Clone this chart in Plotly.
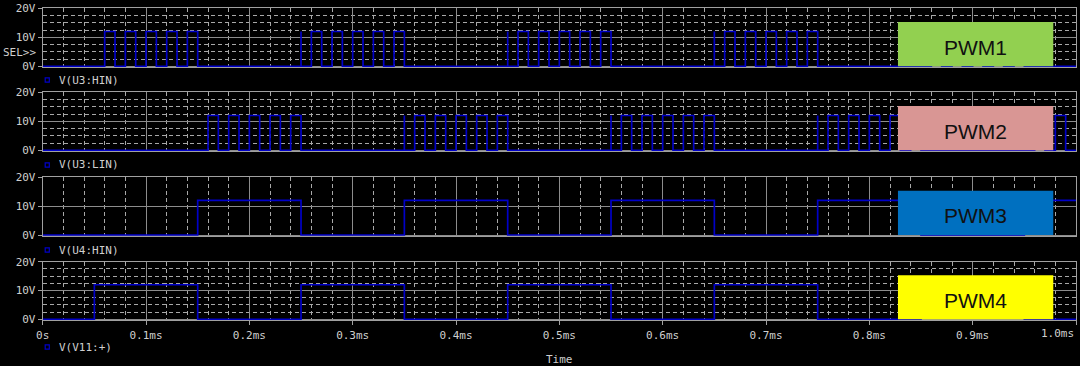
import plotly.graph_objects as go

# ---------------- data (times in ms, values in V) ----------------
HIGH = 12.0
T_END = 1.0

# V(U3:HIN)  -> PWM1
pwm1_rise = [0.06, 0.08, 0.10, 0.12, 0.14,
             0.26, 0.28, 0.30, 0.32, 0.34,
             0.46, 0.48, 0.50, 0.52, 0.54,
             0.66, 0.68, 0.70, 0.72, 0.74,
             0.86, 0.88, 0.90, 0.92, 0.94]
pwm1_fall = [0.07, 0.09, 0.11, 0.13, 0.15,
             0.27, 0.29, 0.31, 0.33, 0.35,
             0.47, 0.49, 0.51, 0.53, 0.55,
             0.67, 0.69, 0.71, 0.73, 0.75,
             0.87, 0.89, 0.91, 0.93, 0.95]
pwm1_glitch = [0.25, 0.45, 0.65, 0.85]

# V(U3:LIN)  -> PWM2
pwm2_rise = [0.16, 0.18, 0.20, 0.22, 0.24,
             0.36, 0.38, 0.40, 0.42, 0.44,
             0.56, 0.58, 0.60, 0.62, 0.64,
             0.76, 0.78, 0.80, 0.82, 0.84,
             0.96, 0.98]
pwm2_fall = [0.17, 0.19, 0.21, 0.23, 0.25,
             0.37, 0.39, 0.41, 0.43, 0.45,
             0.57, 0.59, 0.61, 0.63, 0.65,
             0.77, 0.79, 0.81, 0.83, 0.85,
             0.97, 0.99]
pwm2_glitch = [0.35, 0.55, 0.75, 0.95]

# V(U4:HIN)  -> PWM3
pwm3_rise = [0.15, 0.35, 0.55, 0.75, 0.95]
pwm3_fall = [0.25, 0.45, 0.65, 0.85, 1.00]
pwm3_glitch = []

# V(V11:+)   -> PWM4
pwm4_rise = [0.05, 0.25, 0.45, 0.65, 0.85]
pwm4_fall = [0.15, 0.35, 0.55, 0.75, 0.95]
pwm4_glitch = []

trace_names = ["V(U3:HIN)", "V(U3:LIN)", "V(U4:HIN)", "V(V11:+)"]
box_labels = ["PWM1", "PWM2", "PWM3", "PWM4"]
box_colors = ["#92D050", "#D99694", "#0070C0", "#FFFF00"]
box_x = [0.8277, 0.978]
box_top = 15.3

x_tickvals = [0, 0.1, 0.2, 0.3, 0.4, 0.5, 0.6, 0.7, 0.8, 0.9, 1.0]
x_ticktext = ["0s", "0.1ms", "0.2ms", "0.3ms", "0.4ms", "0.5ms",
              "0.6ms", "0.7ms", "0.8ms", "0.9ms", "1.0ms"]
y_tickvals = [0, 10, 20]
y_ticktext = ["0V", "10V", "20V"]


def waveform(rises, falls, glitches):
    events = [(r, "p", f) for r, f in zip(rises, falls)] + [(g, "g", None) for g in glitches]
    events.sort(key=lambda e: e[0])
    xs, ys = [0.0], [0.0]
    for t, kind, f in events:
        if kind == "g":
            xs += [t, t, t]
            ys += [0, HIGH, 0]
        else:
            xs += [t, t]
            ys += [0, HIGH]
            if f >= T_END:
                xs.append(T_END)
                ys.append(HIGH)
            else:
                xs += [f, f]
                ys += [HIGH, 0]
    if xs[-1] < T_END:
        xs.append(T_END)
        ys.append(0)
    return xs, ys


signals = [
    waveform(pwm1_rise, pwm1_fall, pwm1_glitch),
    waveform(pwm2_rise, pwm2_fall, pwm2_glitch),
    waveform(pwm3_rise, pwm3_fall, pwm3_glitch),
    waveform(pwm4_rise, pwm4_fall, pwm4_glitch),
]

# ---------------- layout geometry ----------------
W, H = 1080, 366
X_LEFT_PX, X_RIGHT_PX = 42.7, 1076.0
panel_top_px = [8.3, 92.3, 177.3, 261.7]
panel_zero_px = [66.3, 150.3, 235.0, 319.3]
legend_y_px = [80, 165, 250, 347]
Y_LO = -0.35
Y_HI = 20.0

BLUE = "#0000C8"
TXT = "#CFCFCF"
GRID = "#8C8C8C"
MINOR = "#A8A8A8"
AXLINE = "#A0A0A0"
MONO = "DejaVu Sans Mono"

fig = go.Figure()
layout = dict(
    width=W, height=H,
    margin=dict(l=0, r=0, t=0, b=0, pad=0, autoexpand=False),
    paper_bgcolor="black", plot_bgcolor="black",
    showlegend=False,
    shapes=[], annotations=[],
)

xdom = [X_LEFT_PX / W, X_RIGHT_PX / W]

for i in range(4):
    n = "" if i == 0 else str(i + 1)
    xs, ys = signals[i]
    fig.add_trace(go.Scatter(x=xs, y=ys, mode="lines",
                             line=dict(color=BLUE, width=1.7),
                             xaxis="x" + n, yaxis="y" + n, hoverinfo="skip"))
    ppv = (panel_zero_px[i] - panel_top_px[i]) / 20.0
    bottom_px = panel_zero_px[i] - Y_LO * ppv
    ydom = [1 - bottom_px / H, 1 - panel_top_px[i] / H]
    last = (i == 3)
    layout["xaxis" + n] = dict(
        domain=xdom, anchor="y" + n, range=[0, T_END],
        tickmode="array", tickvals=x_tickvals,
        ticktext=x_ticktext[:-1] + [""],
        showticklabels=last, ticks="outside" if last else "",
        ticklen=4, tickcolor=AXLINE,
        tickfont=dict(family=MONO, size=11, color=TXT),
        showgrid=True, gridcolor=GRID, gridwidth=1,
        minor=dict(tick0=0, dtick=0.02, showgrid=True, gridcolor=MINOR,
                   griddash="4px,3px", gridwidth=1),
        showline=True, linecolor=AXLINE, linewidth=1, mirror=True,
        zeroline=False, fixedrange=True, automargin=False,
    )
    ymin = dict(tick0=0, dtick=2.5, showgrid=(i != 2), gridcolor=MINOR,
                griddash="4px,3px", gridwidth=1)
    layout["yaxis" + n] = dict(
        domain=ydom, anchor="x" + n, range=[Y_LO, Y_HI],
        tickmode="array", tickvals=y_tickvals, ticktext=y_ticktext,
        ticks="outside", ticklen=4, tickcolor=AXLINE,
        tickfont=dict(family=MONO, size=11, color=TXT),
        showgrid=True, gridcolor=GRID, gridwidth=1,
        minor=ymin,
        showline=True, linecolor=AXLINE, linewidth=1, mirror=True,
        zeroline=False, fixedrange=True, automargin=False,
    )
    # coloured label box
    layout["shapes"].append(dict(
        type="rect", xref="x" + n, yref="y" + n,
        x0=box_x[0], x1=box_x[1], y0=0, y1=box_top,
        fillcolor=box_colors[i], line=dict(width=0), layer="above"))
    layout["annotations"].append(dict(
        xref="x" + n, yref="y" + n, x=(box_x[0] + box_x[1]) / 2, y=6.6,
        text=box_labels[i], showarrow=False,
        font=dict(family="Liberation Sans", size=21, color="#111111"),
        xanchor="center", yanchor="middle"))
    # legend entry
    ly = legend_y_px[i]
    layout["shapes"].append(dict(
        type="rect", xref="paper", yref="paper",
        x0=45.2 / W, x1=49.3 / W, y0=1 - (ly + 2.1) / H, y1=1 - (ly - 2.1) / H,
        line=dict(color=BLUE, width=1.2), fillcolor="rgba(0,0,0,0)"))
    layout["annotations"].append(dict(
        xref="paper", yref="paper", x=56.5 / W, y=1 - ly / H,
        text=trace_names[i], showarrow=False, xanchor="left", yanchor="middle",
        font=dict(family=MONO, size=11, color=TXT)))

# last x tick label, kept inside the page (right-aligned at the axis end)
layout["annotations"].append(dict(
    xref="paper", yref="paper", x=1076.0 / W, y=1 - 333.5 / H, text=x_ticktext[-1],
    showarrow=False, xanchor="right", yanchor="middle",
    font=dict(family=MONO, size=11, color=TXT)))
# SEL>> marker and axis title
layout["annotations"].append(dict(
    xref="paper", yref="paper", x=38.0 / W, y=1 - 52.7 / H, text="SEL>>",
    showarrow=False, xanchor="right", yanchor="middle",
    font=dict(family=MONO, size=11, color=TXT)))
layout["annotations"].append(dict(
    xref="paper", yref="paper", x=559.4 / W, y=1 - 359.0 / H, text="Time",
    showarrow=False, xanchor="center", yanchor="middle",
    font=dict(family=MONO, size=11, color=TXT)))

fig.update_layout(**layout)
fig.write_html(
    "out.html",
    config={"displayModeBar": False, "staticPlot": True},
    post_script="document.body.style.margin='0';document.body.style.background='black';",
)
